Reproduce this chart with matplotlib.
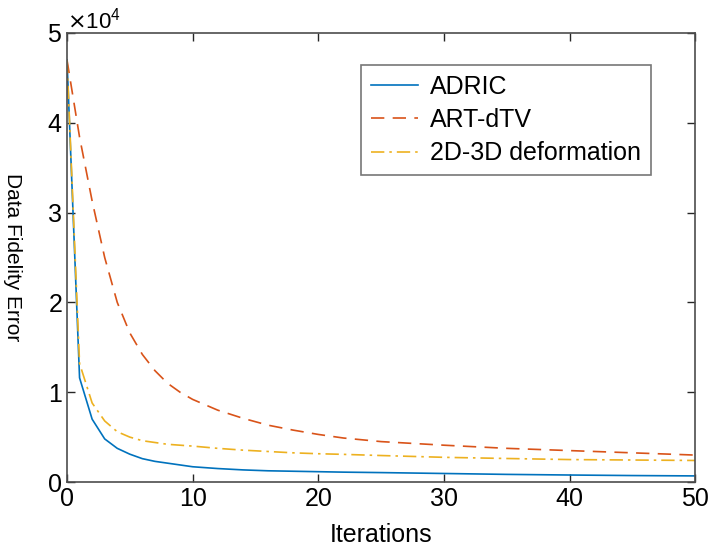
import matplotlib.pyplot as plt
from matplotlib.ticker import ScalarFormatter

plt.rcParams['font.family'] = ['Liberation Sans', 'DejaVu Sans']

iters = [0, 1, 2, 3, 4, 5, 6, 7, 8, 9, 10, 12, 14, 16, 18, 20, 22, 25, 30, 35, 40, 45, 50]

# Data fidelity error per method
adric = [47000, 11600, 7000, 4800, 3750, 3100, 2600, 2300, 2100, 1900, 1700,
         1500, 1350, 1250, 1200, 1150, 1100, 1050, 950, 850, 780, 720, 680]
art_dtv = [47000, 38400, 31300, 25000, 20000, 16600, 14200, 12400, 11000, 10000, 9200,
           8000, 7100, 6330, 5780, 5300, 4900, 4500, 4100, 3750, 3500, 3250, 3000]
deform = [47000, 13200, 8800, 6800, 5600, 5000, 4600, 4400, 4200, 4100, 4000,
          3750, 3550, 3400, 3250, 3150, 3080, 2950, 2750, 2620, 2500, 2450, 2400]

fig = plt.figure(figsize=(7.09, 5.5), dpi=100)
ax = fig.add_axes([0.0945, 0.1236, 0.886, 0.8164])

ax.plot(iters, adric, color='#0072BD', linestyle='-', linewidth=1.2, label='ADRIC')
ax.plot(iters, art_dtv, color='#D95319', linestyle=(0, (8, 5)), linewidth=1.2, label='ART-dTV')
ax.plot(iters, deform, color='#EDB120', linestyle=(0, (8, 3, 1.5, 3)), linewidth=1.2,
        label='2D-3D deformation')

ax.set_xlim(0, 50)
ax.set_ylim(0, 50000)
ax.set_xticks([0, 10, 20, 30, 40, 50])
ax.set_yticks([0, 10000, 20000, 30000, 40000, 50000])

fmt = ScalarFormatter(useMathText=True)
fmt.set_powerlimits((0, 0))
ax.yaxis.set_major_formatter(fmt)
ax.yaxis.get_offset_text().set_fontsize(16)

ax.tick_params(direction='in', length=6, width=1, colors='#262626', labelcolor='black',
               labelsize=18, top=True, right=True)
for sp in ax.spines.values():
    sp.set_color('#4d4d4d')
    sp.set_linewidth(1.2)

ax.set_xlabel('Iterations', fontsize=18, labelpad=9)
ax.set_ylabel('Data Fidelity Error', fontsize=15, rotation=270, va='center', ha='center')
ax.yaxis.set_label_coords(-0.087, 0.5)

leg = ax.legend(loc='upper right', bbox_to_anchor=(0.93, 0.929), borderaxespad=0,
                fontsize=18, frameon=True, fancybox=False, handlelength=1.85,
                borderpad=0.4, labelspacing=0.37, handletextpad=0.5)
leg.get_frame().set_edgecolor('#555555')
leg.get_frame().set_linewidth(1.2)

fig.savefig('out.png', dpi=100)
